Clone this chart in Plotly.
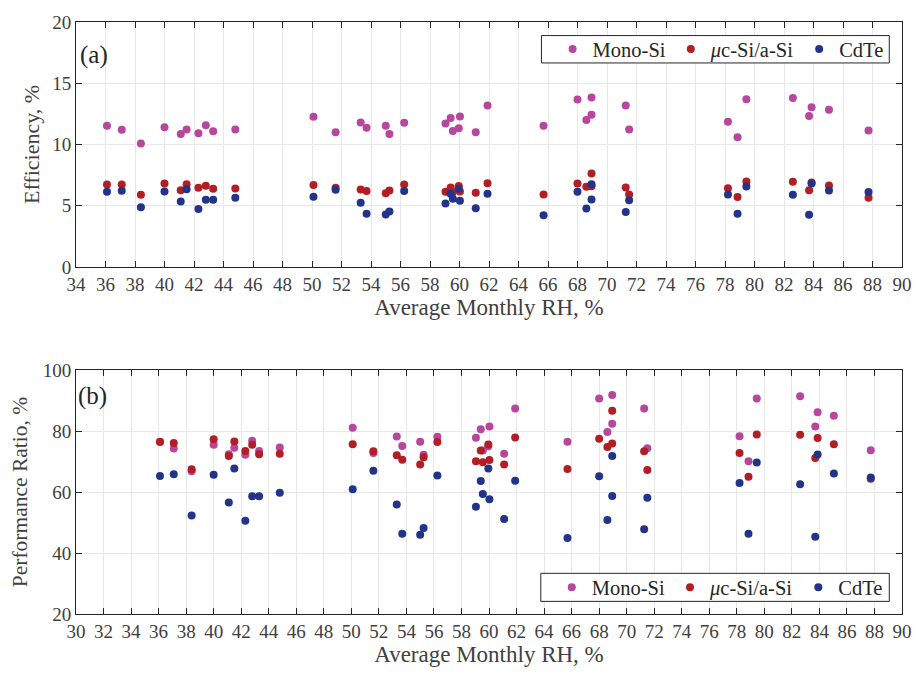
import plotly.graph_objects as go

# Average monthly relative humidity (%) of each site
rh = [36.1, 37.1, 38.4, 40.0, 41.1, 41.5, 42.3, 42.8, 43.3, 44.8,
      50.1, 51.6, 53.3, 53.7, 55.0, 55.25, 56.25, 59.05, 59.4, 59.55,
      59.95, 60.03, 61.1, 61.9, 65.7, 68.0, 68.6, 68.95, 68.95, 71.27,
      71.5, 78.2, 78.85, 79.45, 82.6, 83.7, 83.87, 85.05, 87.73]

# (a) Efficiency, %
eff_mono = [11.53, 11.21, 10.07, 11.40, 10.85, 11.23, 10.91, 11.56, 11.07, 11.23,
            12.27, 10.99, 11.80, 11.37, 11.53, 10.85, 11.78, 11.72, 12.16, 11.10,
            11.32, 12.29, 10.99, 13.19, 11.53, 13.68, 11.99, 13.84, 12.43, 13.19,
            11.23, 11.86, 10.58, 13.70, 13.79, 12.32, 13.03, 12.84, 11.13]
eff_micro = [6.73, 6.73, 5.89, 6.81, 6.27, 6.76, 6.46, 6.62, 6.38, 6.40,
             6.68, 6.46, 6.32, 6.19, 6.02, 6.24, 6.73, 6.13, 6.49, 6.10,
             6.61, 6.16, 6.05, 6.84, 5.92, 6.81, 6.54, 7.63, 6.59, 6.49,
             5.92, 6.43, 5.70, 6.97, 6.95, 6.27, 6.89, 6.65, 5.64]
eff_cdte = [6.13, 6.21, 4.88, 6.16, 5.35, 6.35, 4.72, 5.48, 5.48, 5.64,
            5.73, 6.30, 5.24, 4.34, 4.29, 4.53, 6.19, 5.18, 5.97, 5.56,
            6.38, 5.40, 4.80, 5.97, 4.21, 6.13, 4.78, 6.76, 5.51, 4.48,
            5.45, 5.92, 4.34, 6.57, 5.89, 4.26, 6.81, 6.24, 6.11]

# (b) Performance ratio, %
pr_mono = [76.4, 74.3, 66.8, 75.5, 72.4, 74.5, 72.2, 76.8, 73.5, 74.6,
           81.1, 72.8, 78.2, 75.1, 76.5, 72.2, 78.1, 77.8, 80.6, 73.6,
           75.0, 81.5, 72.6, 87.4, 76.5, 90.7, 79.7, 91.8, 82.4, 87.4,
           74.4, 78.3, 70.1, 90.7, 91.4, 81.5, 86.2, 85.0, 73.7]
pr_micro = [76.5, 76.1, 67.5, 77.3, 71.8, 76.6, 73.5, 75.5, 72.4, 72.6,
            75.7, 73.4, 72.1, 70.6, 69.0, 71.4, 76.4, 70.1, 73.6, 69.8,
            75.6, 70.5, 69.0, 77.9, 67.6, 77.5, 74.8, 86.7, 75.9, 73.4,
            67.2, 72.8, 65.0, 78.9, 78.8, 71.2, 77.7, 75.7, 64.4]
pr_cdte = [65.3, 65.8, 52.3, 65.7, 56.6, 67.7, 50.6, 58.6, 58.6, 59.8,
           60.9, 67.0, 55.9, 46.3, 46.0, 48.2, 65.4, 55.2, 63.6, 59.4,
           67.7, 57.6, 51.2, 63.7, 44.9, 65.2, 50.8, 71.8, 58.7, 47.8,
           58.1, 63.0, 46.3, 69.7, 62.6, 45.3, 72.3, 66.1, 64.8]

names = ["Mono-Si", "<i>μ</i>c-Si/a-Si", "CdTe"]
colors = ["#B6479D", "#B31D24", "#22348A"]

FONT = "'Liberation Serif', 'Times New Roman', Times, serif"
AXC = "#262626"
TXC = "#404040"

fig = go.Figure()
for name, eff, col in zip(names, [eff_mono, eff_micro, eff_cdte], colors):
    fig.add_trace(go.Scatter(x=rh, y=eff, mode="markers", name=name,
                             marker=dict(color=col, size=8, line=dict(width=0)),
                             xaxis="x", yaxis="y", legend="legend"))
for name, pr, col in zip(names, [pr_mono, pr_micro, pr_cdte], colors):
    fig.add_trace(go.Scatter(x=rh, y=pr, mode="markers", name=name,
                             marker=dict(color=col, size=8, line=dict(width=0)),
                             xaxis="x2", yaxis="y2", legend="legend2"))

axis_common = dict(showline=True, linecolor=AXC, linewidth=1, mirror="ticks",
                   ticks="inside", ticklen=6, tickcolor=AXC,
                   showgrid=True, gridcolor="#E8E8E8", gridwidth=1,
                   zeroline=False, tickfont=dict(family=FONT, size=19, color=TXC))

title_font = dict(family=FONT, size=23, color=TXC)

legend_common = dict(orientation="h", xanchor="left", yanchor="middle",
                     bgcolor="rgba(0,0,0,0)", borderwidth=0,
                     font=dict(family=FONT, size=20.5, color=AXC))

fig.update_layout(
    width=924, height=674,
    margin=dict(l=76, r=14.5, t=18, b=59),
    paper_bgcolor="white", plot_bgcolor="white",
    font=dict(family=FONT, color=TXC),
    xaxis=dict(axis_common, range=[34, 90], dtick=2, tick0=34, anchor="y",
               title=dict(text="Average Monthly RH, %", font=title_font, standoff=4)),
    yaxis=dict(axis_common, range=[0, 20], dtick=5, domain=[0.5863, 1], anchor="x",
               title=dict(text="Efficiency, %", font=dict(title_font, size=22), standoff=6)),
    xaxis2=dict(axis_common, range=[30, 90], dtick=2, tick0=30, anchor="y2",
                title=dict(text="Average Monthly RH, %", font=title_font, standoff=4)),
    yaxis2=dict(axis_common, range=[20, 100], dtick=20, domain=[0, 0.412], anchor="x2",
                title=dict(text="Performance Ratio, %", font=dict(title_font, size=21.5), standoff=9)),
    legend=dict(legend_common, x=0.577, y=0.954),
    legend2=dict(legend_common, x=0.576, y=0.045),
    shapes=[
        dict(type="rect", xref="paper", yref="paper", x0=0.5635, x1=0.9846,
             y0=0.9308, y1=0.9771, fillcolor="white", layer="above",
             line=dict(color=AXC, width=1)),
        dict(type="rect", xref="paper", yref="paper", x0=0.5627, x1=0.9846,
             y0=0.0213, y1=0.0687, fillcolor="white", layer="above",
             line=dict(color=AXC, width=1)),
    ],
    annotations=[
        dict(text="(a)", xref="x domain", yref="y domain", x=0.002, y=0.864,
             xanchor="left", yanchor="middle", showarrow=False,
             font=dict(family=FONT, size=25, color=AXC)),
        dict(text="(b)", xref="x2 domain", yref="y2 domain", x=0.0, y=0.892,
             xanchor="left", yanchor="middle", showarrow=False,
             font=dict(family=FONT, size=25, color=AXC)),
    ],
)

fig.write_html("out.html")
